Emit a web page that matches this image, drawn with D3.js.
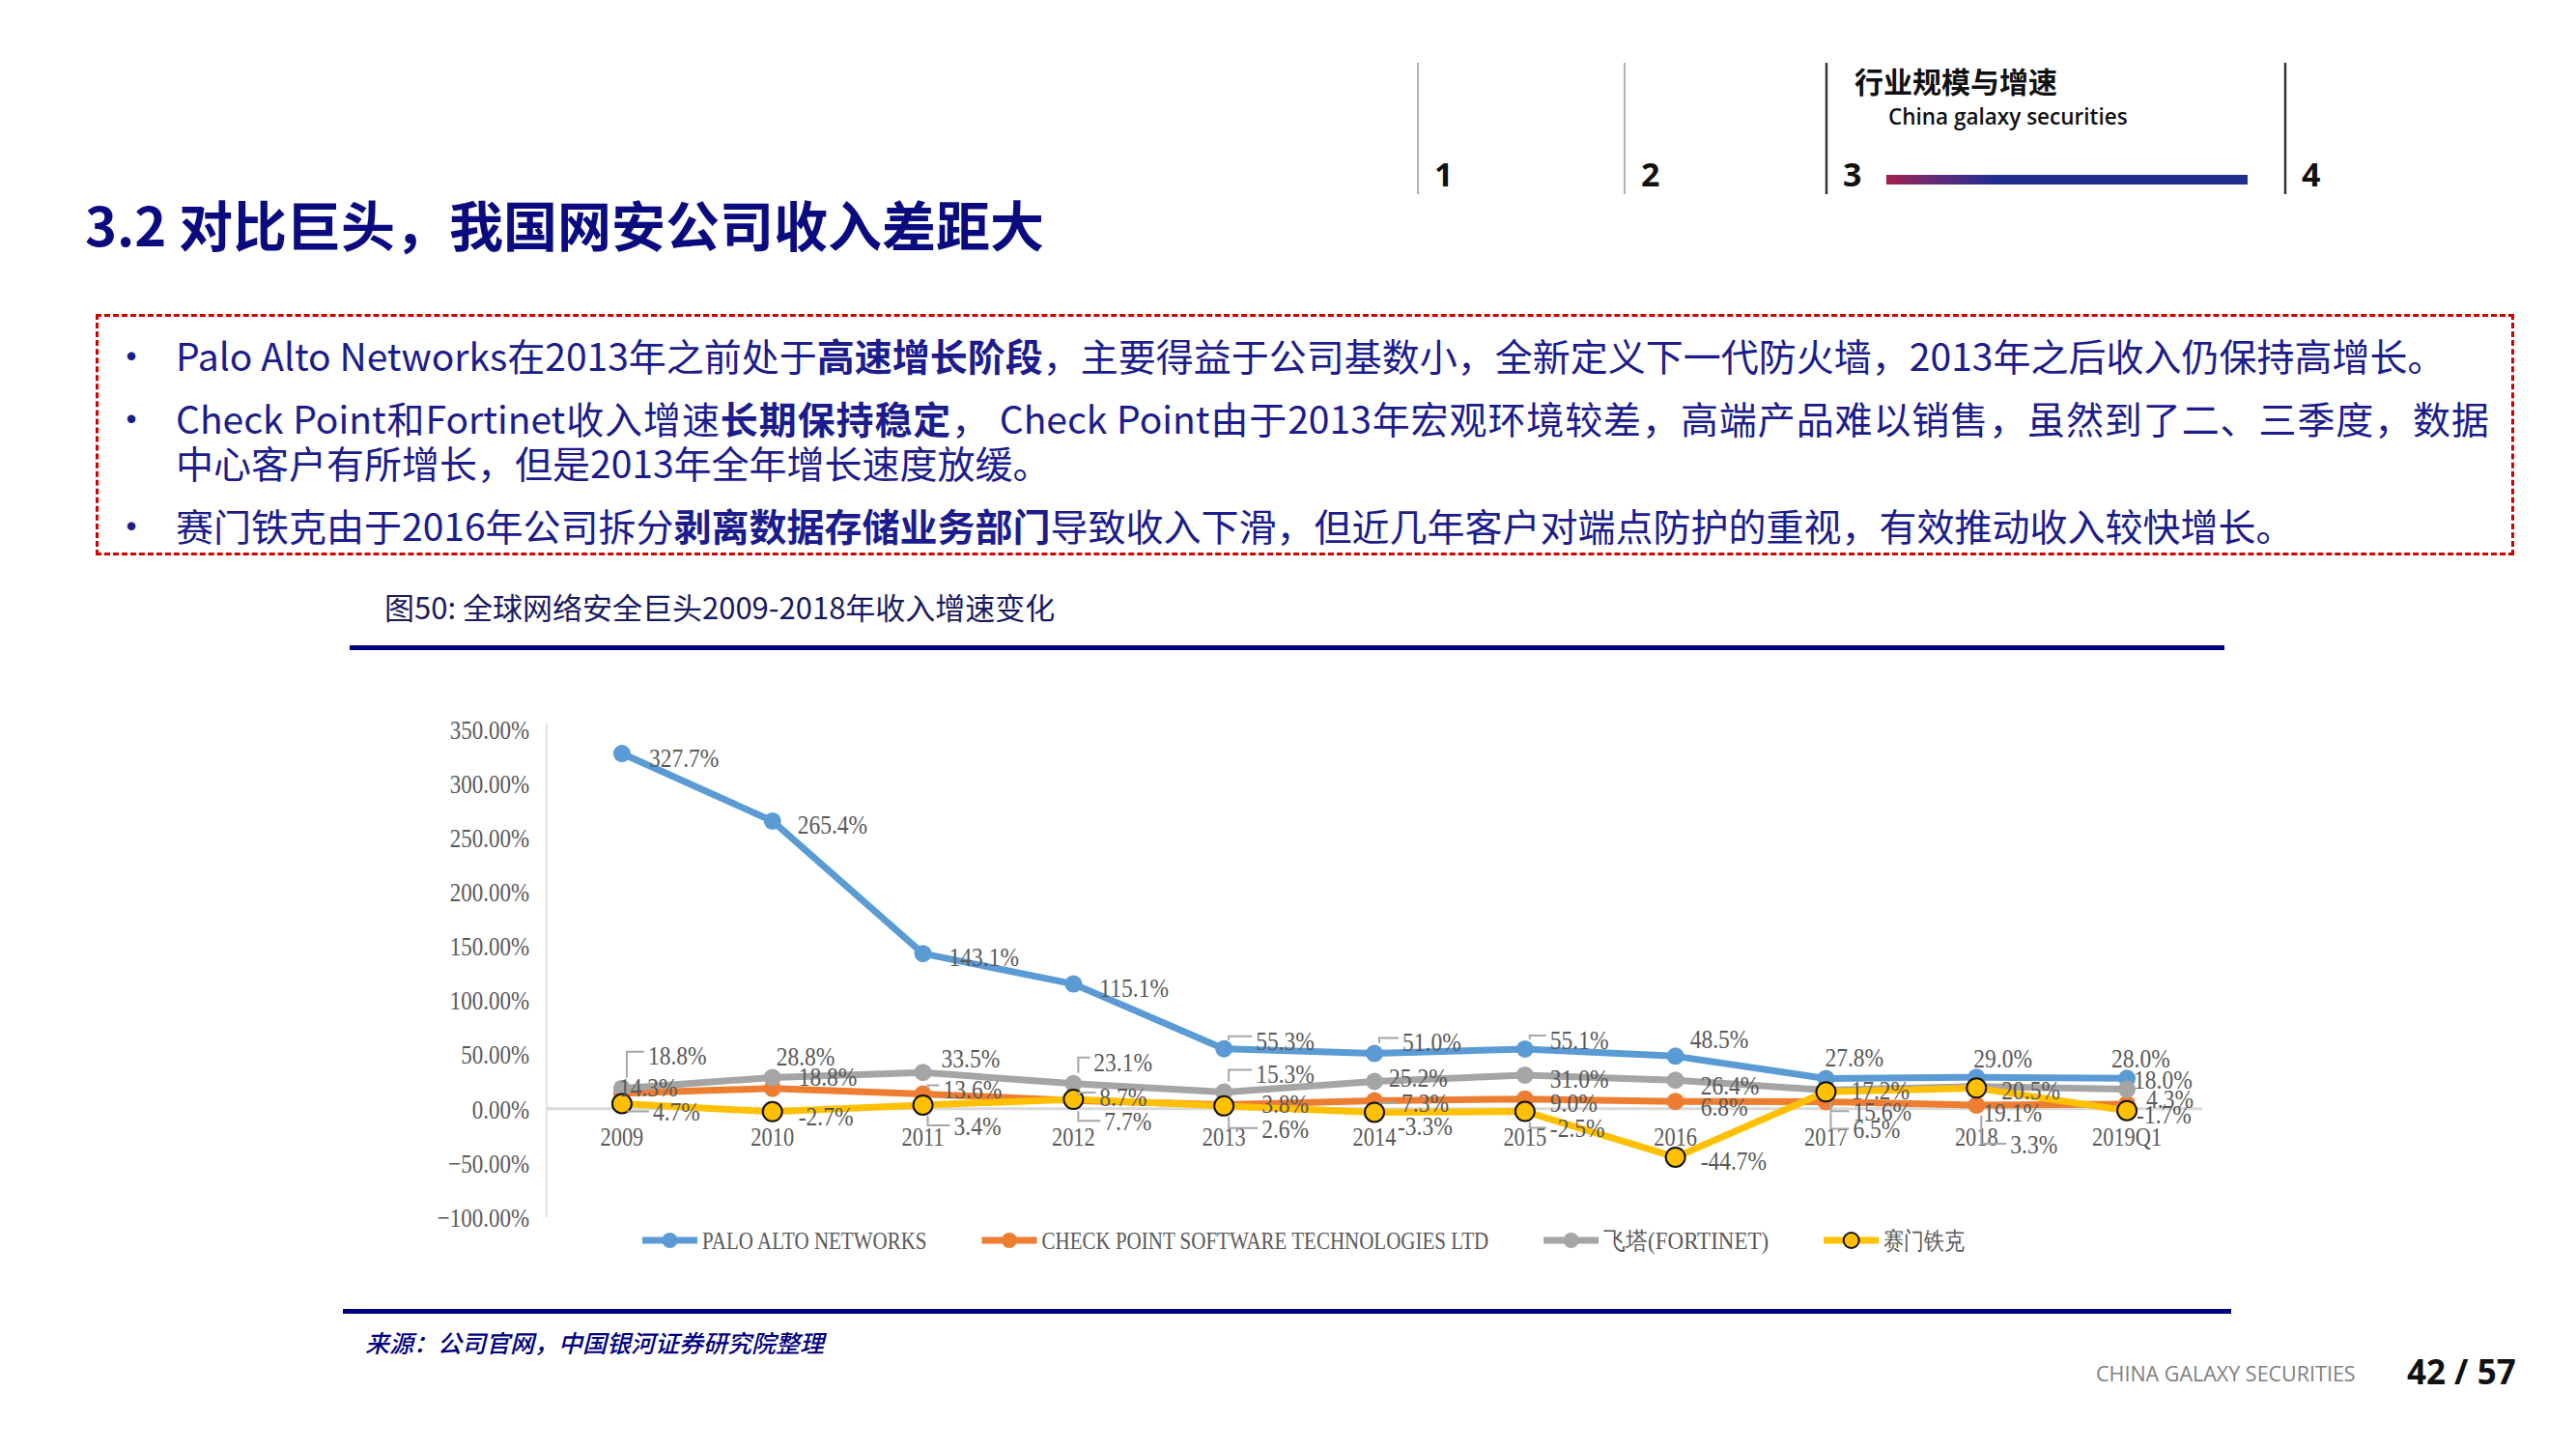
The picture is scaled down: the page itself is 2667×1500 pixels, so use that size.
<!DOCTYPE html>
<html><head><meta charset="utf-8">
<script src="https://cdn.jsdelivr.net/npm/d3@7"></script>
<style>
html,body{margin:0;padding:0;background:#fff;}
body{width:2667px;height:1500px;position:relative;overflow:hidden;font-family:"Noto Sans CJK SC","Noto Sans",sans-serif;}
#chart{position:absolute;left:0;top:0;}
.line{position:absolute;left:182px;white-space:nowrap;font-size:39px;line-height:46px;color:#1c1c8c;}
.line b{font-weight:700;}
.bul{position:absolute;left:116px;font-size:40px;line-height:46px;color:#1c1c8c;}
.box{position:absolute;left:99px;top:325px;width:2498px;height:244px;border:3px dashed #d40000;}
</style></head><body>
<svg id="chart" width="2667" height="1500"></svg>
<div class="box"></div>
<div class="bul" style="top:344px">•</div>
<div class="line" style="top:344px">Palo Alto Networks在2013年之前处于<b>高速增长阶段</b>，主要得益于公司基数小，全新定义下一代防火墙，2013年之后收入仍保持高增长。</div>
<div class="bul" style="top:409px">•</div>
<div class="line" style="top:409px;width:2395px;text-align:justify;text-align-last:justify;white-space:normal;">Check Point和Fortinet收入增速<b>长期保持稳定</b>， Check Point由于2013年宏观环境较差，高端产品难以销售，虽然到了二、三季度，数据</div>
<div class="line" style="top:455px">中心客户有所增长，但是2013年全年增长速度放缓。</div>
<div class="bul" style="top:520px">•</div>
<div class="line" style="top:520px">赛门铁克由于2016年公司拆分<b>剥离数据存储业务部门</b>导致收入下滑，但近几年客户对端点防护的重视，有效推动收入较快增长。</div>
<script>
// ---------- data ----------
const categories = ["2009","2010","2011","2012","2013","2014","2015","2016","2017","2018","2019Q1"];
const seriesNames = ["PALO ALTO NETWORKS","CHECK POINT SOFTWARE TECHNOLOGIES LTD","飞塔(FORTINET)","赛门铁克"];
const paloAlto   = [327.7,265.4,143.1,115.1,55.3,51.0,55.1,48.5,27.8,29.0,28.0];
const checkPoint = [14.3,18.8,13.6,7.7,3.8,7.3,9.0,6.8,6.5,3.3,4.3];
const fortinet   = [18.8,28.8,33.5,23.1,15.3,25.2,31.0,26.4,17.2,20.5,18.0];
const symantec   = [4.7,-2.7,3.4,8.7,2.6,-3.3,-2.5,-44.7,15.6,19.1,-1.7];
const yTicks = [-100,-50,0,50,100,150,200,250,300,350];

// label placement (layout only: dx, dy, leader flag)
const labelLayout = [
  [[28,4],[26,3],[27,3],[27,4],[33,-9,1],[29,-12,1],[26,-10,1],[15,-18],[-1,-22],[-3,-20],[-16,-21]],
  [[-3,-7],[27,-12],[21,-5,1],[32,21,1],[39,-1],[28,2,1],[26,4],[26,5],[28,28,1],[35,40,1],[20,-6]],
  [[27,-34,1],[4,-22],[19,-15],[21,-23,1],[33,-19,1],[15,-4],[26,3],[26,5],[26,0],[26,3],[7,-10]],
  [[32,8,1],[27,4],[32,21,1],[27,-3,1],[39,23,1],[24,14],[26,17,1],[26,3],[28,20,1],[7,25],[10,4]]
];
const colors = ["#5B9BD5","#ED7D31","#A5A5A5","#FFC000"];
const seriesValues = [paloAlto, checkPoint, fortinet, symantec];

// ---------- page ----------
const svg = d3.select("#chart");
const NAVY = "#0b0b80";

// nav header
const navX = [1468,1682,1891,2366];
navX.forEach((x,i)=>{
  svg.append("line").attr("x1",x).attr("x2",x).attr("y1",65).attr("y2",201)
    .attr("stroke", i<2 ? "#9a9a9a" : "#333").attr("stroke-width", i<2?1.5:2.5);
  svg.append("text").attr("x",x+17).attr("y",193).attr("font-family","Open Sans, Noto Sans, sans-serif")
    .attr("font-weight",700).attr("font-size",34).attr("fill","#111").text(String(i+1));
});
svg.append("text").attr("x",1920).attr("y",96).attr("font-size",30).attr("font-weight",700)
  .attr("font-family","Noto Sans CJK SC").attr("fill","#111").text("行业规模与增速");
svg.append("text").attr("x",1955).attr("y",129).attr("font-size",22.5).attr("font-weight",600)
  .attr("font-family","Open Sans, Noto Sans, sans-serif").attr("fill","#111").text("China galaxy securities");
const defs = svg.append("defs");
const grad = defs.append("linearGradient").attr("id","navg").attr("x1","0").attr("x2","1");
grad.append("stop").attr("offset","0%").attr("stop-color","#a3204a");
grad.append("stop").attr("offset","12%").attr("stop-color","#6a2a78");
grad.append("stop").attr("offset","30%").attr("stop-color","#1f2f8f");
grad.append("stop").attr("offset","100%").attr("stop-color","#1f2f8f");
svg.append("rect").attr("x",1953).attr("y",181).attr("width",374).attr("height",10).attr("fill","url(#navg)");

// title
svg.append("text").attr("x",88).attr("y",255).attr("font-size",56).attr("font-weight",700)
  .attr("font-family","Noto Sans CJK SC").attr("fill",NAVY).text("3.2 对比巨头，我国网安公司收入差距大");

// caption + rules
svg.append("text").attr("x",398).attr("y",641).attr("font-size",31)
  .attr("font-family","Noto Sans CJK SC").attr("fill","#1a1a60").text("图50: 全球网络安全巨头2009-2018年收入增速变化");
svg.append("rect").attr("x",362).attr("y",668).attr("width",1941).attr("height",5).attr("fill","#000080");
svg.append("rect").attr("x",355).attr("y",1355).attr("width",1955).attr("height",5).attr("fill","#000080");
svg.append("text").attr("x",378).attr("y",1400).attr("font-size",25).attr("font-style","italic").attr("font-weight",500)
  .attr("font-family","Noto Sans CJK SC").attr("fill","#000080").text("来源：公司官网，中国银河证券研究院整理");

// footer
svg.append("text").attr("x",2170).attr("y",1430).attr("font-size",21.5)
  .attr("font-family","Open Sans, Noto Sans, sans-serif").attr("fill","#808080").text("CHINA GALAXY SECURITIES");
svg.append("text").attr("x",2492).attr("y",1433).attr("font-size",35).attr("font-weight",700)
  .attr("font-family","Open Sans, Noto Sans, sans-serif").attr("fill","#111").text("42 / 57");

// ---------- chart ----------
const SX = 0.8;
const FONT = "Liberation Serif, DejaVu Serif, serif";
const TXT = "#595959";
const x = d3.scaleBand().domain(categories).range([566,2280]).padding(0);
const cx = c => x(c) + x.bandwidth()/2;
const y = d3.scaleLinear().domain([-100,350]).range([1260,755]);

function sText(parent, px, py, str, anchor, size, sx){
  return parent.append("text")
    .attr("transform",`translate(${px},${py}) scale(${sx||SX},1)`)
    .attr("text-anchor",anchor||"start").attr("dy","0.35em")
    .attr("font-family",FONT).attr("font-size",size||28).attr("fill",TXT).text(str);
}

const g = svg.append("g");
// y axis line
g.append("line").attr("x1",566).attr("x2",566).attr("y1",y(350)-6).attr("y2",y(-100)).attr("stroke","#d9d9d9").attr("stroke-width",1.5);
// y tick labels
yTicks.forEach(t=> sText(g, 548, y(t), d3.format(".2f")(t)+"%", "end", 28, 0.82));
// zero line
g.append("line").attr("x1",566).attr("x2",2280).attr("y1",y(0)).attr("y2",y(0)).attr("stroke","#d9d9d9").attr("stroke-width",3);
// category labels
categories.forEach(c=> sText(g, cx(c), y(0)+28, c, "middle", 28));

// lines
const lineGen = d3.line().x((d,i)=>cx(categories[i])).y(d=>y(d));
seriesValues.forEach((vals,s)=>{
  g.append("path").datum(vals).attr("d",lineGen).attr("fill","none")
    .attr("stroke",colors[s]).attr("stroke-width",7).attr("stroke-linejoin","round");
  g.selectAll(null).data(vals).enter().append("circle")
    .attr("cx",(d,i)=>cx(categories[i])).attr("cy",d=>y(d)).attr("r", s===3?10:9)
    .attr("fill",colors[s]).attr("stroke", s===3?"#111":"none").attr("stroke-width",2);
});

// data labels + leaders
const lg = svg.append("g");
seriesValues.forEach((vals,s)=>{
  vals.forEach((v,i)=>{
    const px = cx(categories[i]), py = y(v);
    const [dx,dy,lead] = labelLayout[s][i];
    const lx = px+dx, ly = py+dy;
    if(lead){
      const sign = dy<0?-1:1;
      const sy = py + sign*Math.min(11, Math.abs(dy));
      const hy = ly + (dy<0 ? -4 : 0);
      lg.append("path").attr("d",`M${px+5},${sy}V${hy}H${lx-4}`)
        .attr("fill","none").attr("stroke","#a6a6a6").attr("stroke-width",2);
    }
    sText(lg, lx, ly, v.toFixed(1)+"%", "start", 28, 0.84);
  });
});

// legend
const leg = svg.append("g");
let lx0 = 665;
const legY = 1284;
seriesNames.forEach((n,s)=>{
  leg.append("line").attr("x1",lx0).attr("x2",lx0+57).attr("y1",legY).attr("y2",legY)
    .attr("stroke",colors[s]).attr("stroke-width",7);
  leg.append("circle").attr("cx",lx0+28.5).attr("cy",legY).attr("r",8)
    .attr("fill",colors[s]).attr("stroke",s===3?"#111":"none").attr("stroke-width",2);
  const sx = s===2 ? 0.92 : 0.84;
  const t = sText(leg, lx0+62, legY, n, "start", 25, sx);
  const w = t.node().getComputedTextLength()*sx;
  lx0 += 62 + w + 57;
});
</script>
</body></html>
